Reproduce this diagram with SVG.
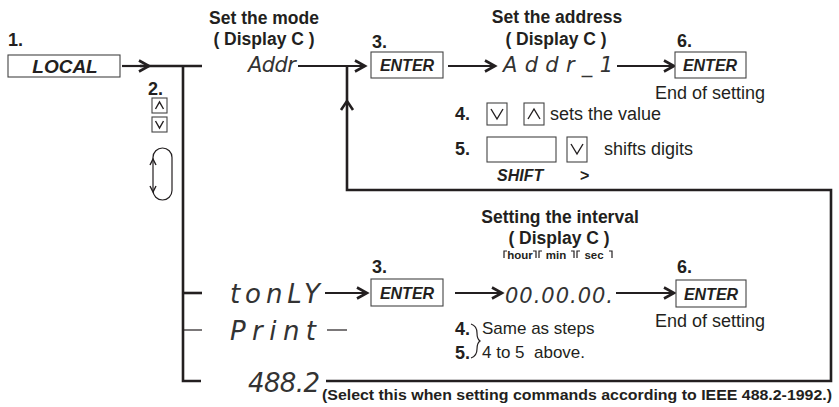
<svg xmlns="http://www.w3.org/2000/svg" width="839" height="407" viewBox="0 0 839 407">
<defs>
<style>
.t{font-family:"Liberation Sans",Arial,sans-serif;fill:#231f20}
.b{font-weight:bold}
.bi{font-weight:bold;font-style:italic}
.h{font-size:17.5px;font-weight:bold}
.n{font-size:18px;font-weight:bold}
.r{font-size:17px}
.r2{font-size:18px}
.seg{font-family:"DejaVu Sans",sans-serif;font-weight:200;font-style:italic;font-size:21px;fill:#333}
.segL{font-size:26px}
.box{fill:#fff;stroke:#444;stroke-width:1.1}
.thk{fill:none;stroke:#231f20;stroke-width:2.6}
.thin{fill:none;stroke:#231f20;stroke-width:1.2}
.arr{fill:none;stroke:#231f20;stroke-width:2.2;marker-end:url(#ah)}
.chev{fill:none;stroke:#231f20;stroke-width:1.4}
</style>
<marker id="ah" markerUnits="userSpaceOnUse" markerWidth="16" markerHeight="16" refX="12" refY="7" orient="auto">
<path d="M2,1.5 L12,7 L2,12.5" fill="none" stroke="#231f20" stroke-width="2.6"/>
</marker>
</defs>

<g id="connectors">
<path class="thk" d="M140,66 H202"/>
<path class="thk" d="M183,66 V381 H201"/>
<path class="thk" d="M183,293 H202"/>
<path class="thin" d="M183,330 H202"/>
<path class="thin" d="M327,330 H347"/>
<path class="arr" d="M122,66 H149"/>
<path class="arr" d="M298,66 H365"/>
<path class="thk" d="M347,66 V190 H831 V381 H326"/>
<path fill="none" stroke="#231f20" stroke-width="2.6" d="M341,110 L347,101 L353,110"/>
<path class="arr" d="M448,66 H495"/>
<path class="arr" d="M617,66 H674"/>
<path class="arr" d="M325,293 H367"/>
<path class="arr" d="M455,293 H502"/>
<path class="arr" d="M616,293 H674"/>
</g>

<g id="step1">
<text class="t n" x="8" y="46">1.</text>
<rect class="box" x="8" y="55" width="112" height="22"/>
<text class="t bi" font-size="19" x="65" y="73" text-anchor="middle">LOCAL</text>
</g>

<g id="step2">
<text class="t n" x="148" y="95">2.</text>
<rect class="box" x="152" y="98" width="15" height="15"/>
<path class="chev" stroke-width="1.8" d="M155.5,109 L159.5,102 L163.5,109"/>
<rect class="box" x="152" y="117" width="15" height="15"/>
<path class="chev" stroke-width="1.8" d="M155.5,121 L159.5,128 L163.5,121"/>
<rect class="thin" x="153" y="148" width="19" height="52" rx="9.5" stroke-width="1"/>
<path class="chev" stroke-width="1" d="M150,165 L153,159 L156,165 M150,186 L153,192 L156,186"/>
</g>

<g id="mode">
<text class="t h" x="264" y="24" text-anchor="middle">Set the mode</text>
<text class="t h" x="264" y="45" text-anchor="middle">( Display C )</text>
<text class="seg" x="248" y="72" textLength="48" lengthAdjust="spacing">Addr</text>
</g>

<g id="enter1">
<text class="t n" x="372" y="48">3.</text>
<rect class="box" x="371" y="52" width="72" height="26"/>
<text class="t bi" font-size="16" x="407" y="71" text-anchor="middle">ENTER</text>
</g>

<g id="address">
<text class="t h" x="557" y="23" text-anchor="middle">Set the address</text>
<text class="t h" x="556" y="45" text-anchor="middle">( Display C )</text>
<text class="seg" x="503" y="72" textLength="110" lengthAdjust="spacing">Addr_1</text>
</g>

<g id="enter2">
<text class="t n" x="677" y="47">6.</text>
<rect class="box" x="675" y="52" width="71" height="26"/>
<text class="t bi" font-size="16" x="710" y="71" text-anchor="middle">ENTER</text>
<text class="t r2" x="710" y="99" text-anchor="middle">End of setting</text>
</g>

<g id="step4">
<text class="t n" x="455" y="120">4.</text>
<rect class="box" x="487" y="103" width="20" height="22"/>
<path class="chev" d="M491,109 L497,119 L503,109"/>
<rect class="box" x="524" y="103" width="20" height="22"/>
<path class="chev" d="M528,119 L534,109 L540,119"/>
<text class="t r2" x="550" y="120">sets the value</text>
</g>

<g id="step5">
<text class="t n" x="455" y="155">5.</text>
<rect class="box" x="487" y="137" width="69" height="25"/>
<rect class="box" x="567" y="137" width="20" height="25"/>
<path class="chev" d="M571,144 L577,154 L583,144"/>
<text class="t r2" x="604" y="155">shifts digits</text>
<text class="t bi" font-size="16" x="497" y="181">SHIFT</text>
<text class="t b" font-size="16" x="580" y="181">&gt;</text>
</g>

<g id="tonly">
<text class="seg segL" x="230" y="303" textLength="90" lengthAdjust="spacing">tonLY</text>
</g>

<g id="print">
<text class="seg segL" x="230" y="340" textLength="86" lengthAdjust="spacing">Print</text>
</g>

<g id="ieee">
<text class="seg segL" x="248" y="392" textLength="72" lengthAdjust="spacing">488.2</text>
<text class="t b" font-size="15" x="322" y="400" textLength="510" lengthAdjust="spacingAndGlyphs">(Select this when setting commands according to IEEE 488.2-1992.)</text>
</g>

<g id="enter3">
<text class="t n" x="372" y="273">3.</text>
<rect class="box" x="371" y="279" width="72" height="27"/>
<text class="t bi" font-size="16" x="407" y="299" text-anchor="middle">ENTER</text>
</g>

<g id="interval">
<text class="t h" x="560" y="223" text-anchor="middle">Setting the interval</text>
<text class="t h" x="559" y="244" text-anchor="middle">( Display C )</text>
<path class="thin" stroke-width="1" d="M504,258 V251 H507 M533,251 H536 V258 M539,258 V251 H542 M571,251 H574 V258 M577,258 V251 H580 M609,251 H612 V258"/>
<text class="t b" font-size="11.5" x="520" y="259" text-anchor="middle">hour</text>
<text class="t b" font-size="11.5" x="556" y="259" text-anchor="middle">min</text>
<text class="t b" font-size="11.5" x="594" y="259" text-anchor="middle">sec</text>
<text class="seg" font-size="25" x="505" y="303" textLength="108" lengthAdjust="spacing">00.00.00.</text>
</g>

<g id="enter4">
<text class="t n" x="677" y="273">6.</text>
<rect class="box" x="676" y="280" width="70" height="27"/>
<text class="t bi" font-size="16" x="711" y="300" text-anchor="middle">ENTER</text>
<text class="t r2" x="710" y="327" text-anchor="middle">End of setting</text>
</g>

<g id="same">
<text class="t n" x="455" y="335">4.</text>
<text class="t n" x="455" y="359">5.</text>
<path class="thin" stroke-width="1" d="M471,324 Q477,326 477,333 Q477,339 480,341 Q477,343 477,349 Q477,356 471,358"/>
<text class="t r" x="482" y="334">Same as steps</text>
<text class="t r" x="482" y="358">4 to 5&#160; above.</text>
</g>
</svg>
